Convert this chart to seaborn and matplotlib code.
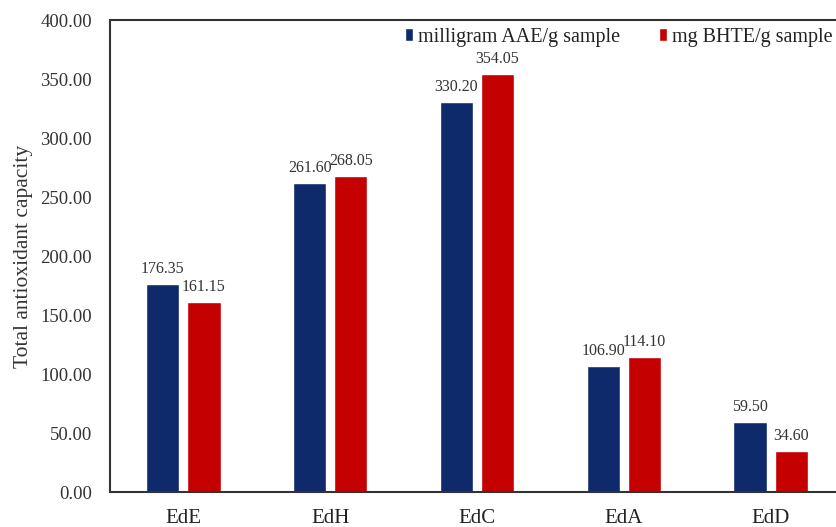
import numpy as np
import pandas as pd
import matplotlib
matplotlib.use("Agg")
import matplotlib.pyplot as plt
import seaborn as sns

categories = ["EdE", "EdH", "EdC", "EdA", "EdD"]
aae_values = [176.35, 261.60, 330.20, 106.90, 59.50]
bhte_values = [161.15, 268.05, 354.05, 114.10, 34.60]
series_names = ["milligram AAE/g sample", "mg BHTE/g sample"]
y_ticks = [0, 50, 100, 150, 200, 250, 300, 350, 400]

df = pd.DataFrame({
    "extract": categories * 2,
    "value": aae_values + bhte_values,
    "series": [series_names[0]] * len(categories) + [series_names[1]] * len(categories),
})

sns.set_style("white")
plt.rcParams["font.family"] = ["Liberation Serif", "DejaVu Serif"]

fig = plt.figure(figsize=(8.37, 5.27), dpi=100)
ax = fig.add_axes([0.1314, 0.0664, 0.877, 0.8956])

palette = {series_names[0]: "#0f2a6b", series_names[1]: "#c40000"}
sns.barplot(data=df, x="extract", y="value", hue="series", palette=palette,
            width=0.56, gap=0.19, ax=ax, saturation=1, errorbar=None)

ax.set_ylim(0, 400)
ax.set_xlim(-0.5, 4.5)
ax.set_yticks(y_ticks)
ax.set_yticklabels([f"{v:.2f}" for v in y_ticks], fontsize=13.5, color="#333333")
ax.tick_params(axis="y", length=0, pad=13)
ax.tick_params(axis="x", length=0, pad=12)
for lab in ax.get_xticklabels():
    lab.set_fontsize(15)
    lab.set_color("#222222")
ax.set_xlabel("")
ax.set_ylabel("Total antioxidant capacity", fontsize=15.5, color="#333333", labelpad=5)

for side in ["left", "bottom", "top", "right"]:
    ax.spines[side].set_visible(True)
    ax.spines[side].set_color("#333333")
    ax.spines[side].set_linewidth(1.5)

for container in ax.containers:
    ax.bar_label(container, labels=[f"{v:.2f}" for v in container.datavalues],
                 padding=5, fontsize=11.5, color="#333333")

leg = ax.legend(loc="upper right", bbox_to_anchor=(0.998, 1.005), ncol=2, frameon=False,
                fontsize=14.5, handlelength=0.4, handleheight=0.65, handletextpad=0.25,
                columnspacing=1.9, borderaxespad=0.1)
for t in leg.get_texts():
    t.set_color("#222222")

fig.savefig("out.png", dpi=100)
